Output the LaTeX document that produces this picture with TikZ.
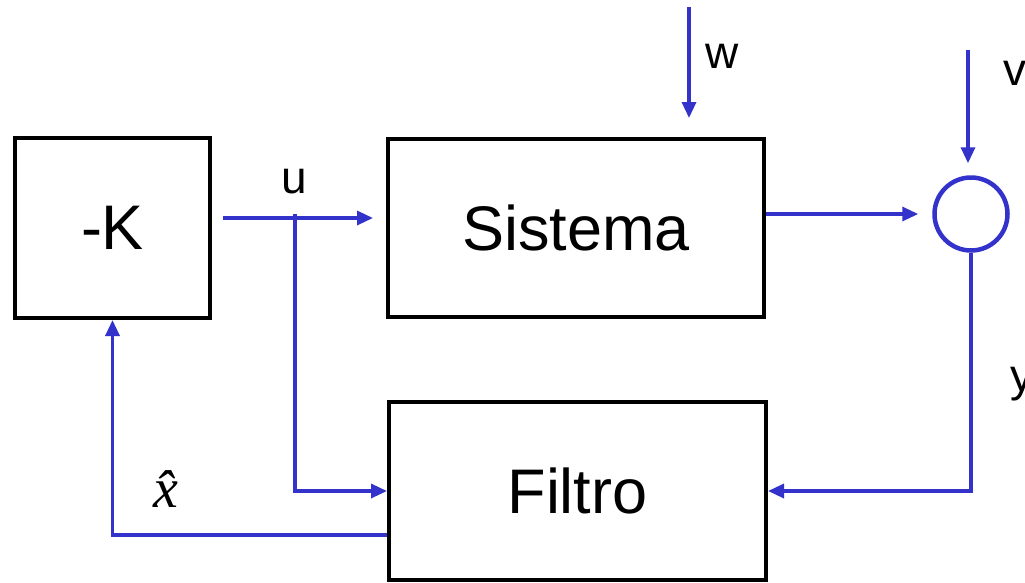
\documentclass[tikz,border=0pt]{standalone}
\usepackage{fontspec}
\setmainfont{Liberation Sans}
\newfontfamily\xserif{Liberation Serif}
\usetikzlibrary{arrows.meta}
\definecolor{lineblue}{RGB}{51,51,204}
\begin{document}
\begin{tikzpicture}[x=1pt,y=-1pt,
  blockbox/.style={draw=black, line width=4pt, inner sep=0pt, font=\fontsize{63}{63}\selectfont},
  sig/.style={draw=lineblue, line width=3.3pt, -{Triangle[length=16pt,width=14pt]}},
  lbl/.style={inner sep=0pt, anchor=base west, font=\fontsize{46}{46}\selectfont},
  sumnode/.style={circle, draw=lineblue, line width=4.5pt, minimum size=73pt, inner sep=0pt}
]
\useasboundingbox (0,0) rectangle (1025,582);
\clip (0,0) rectangle (1025,582);

\node[blockbox, minimum width=195pt, minimum height=180pt] (K) at (112.5,228) {-K};
\node[blockbox, minimum width=376pt, minimum height=178pt] (Sistema) at (576,228) {Sistema};
\node[blockbox, minimum width=377pt, minimum height=178pt] (Filtro) at (577.5,491) {Filtro};
\node[sumnode] (sum) at (971,214) {};

\coordinate (ustart) at (223,218);
\coordinate (ub) at (295,214);
\coordinate (wtop) at (689,7);
\coordinate (vtop) at (968,50);

\draw[sig, shorten >=13pt] (ustart) -- (ustart -| Sistema.west);
\draw[sig] (ub) |- (Filtro.west);
\draw[sig] ([yshift=-44pt]Filtro.west) -| (K.south);
\draw[sig, shorten >=14pt] (Sistema.east |- sum.west) -- (sum.west);
\draw[sig, shorten >=19pt] (wtop) -- (wtop |- Sistema.north);
\draw[sig, shorten >=12pt] (vtop) -- (vtop |- sum.north);
\draw[sig] (sum.south) |- (Filtro.east);

\node[lbl] (lu) at (281,193) {u};
\node[lbl] (lw) at (705,68) {w};
\node[lbl] (lv) at (1003,85) {v};
\node[lbl] (ly) at (1010,391) {y};
\node[inner sep=0pt, anchor=base, font=\xserif\itshape\fontsize{56}{56}\selectfont] (lx) at (166,507) {\^{x}};
\end{tikzpicture}
\end{document}
